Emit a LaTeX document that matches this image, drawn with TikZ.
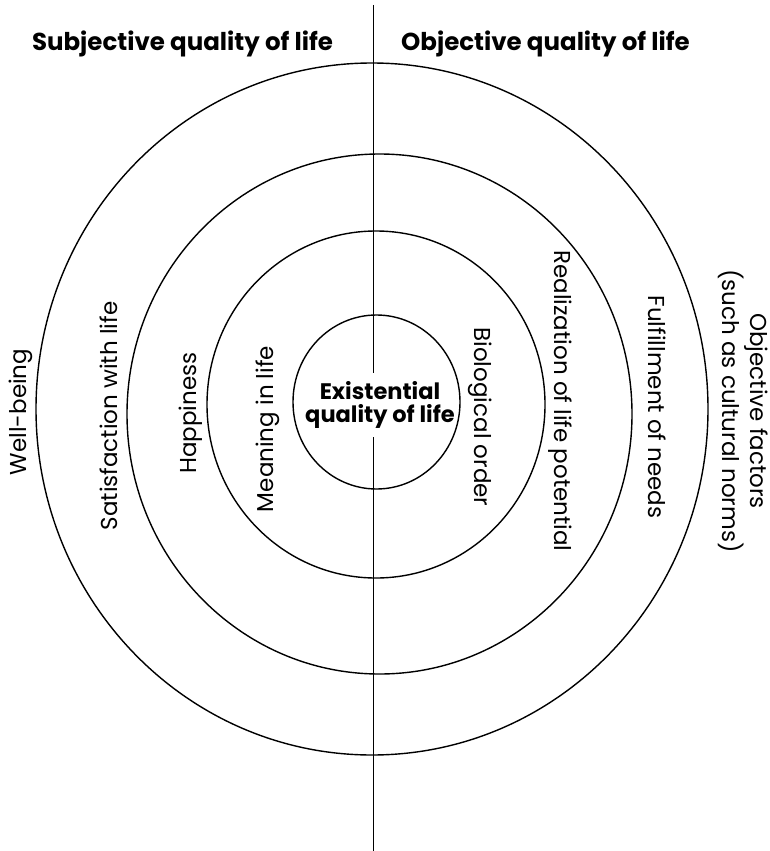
\documentclass[tikz,border=0pt]{standalone}
\usepackage{fontspec}
\setmainfont{Poppins}
\begin{document}
\begin{tikzpicture}[x=1pt,y=-1pt,
  ring/.style={line width=1.4pt},
  divider/.style={line width=1.4pt},
  title/.style={font=\fontsize{24.5}{28}\selectfont\bfseries, anchor=base},
  lbl/.style={font=\fontsize{23}{24}\selectfont, inner sep=0pt},
  lblL/.style={lbl, rotate=90},
  lblR/.style={lbl, rotate=-90, align=center},
  core/.style={font=\fontsize{22.5}{23.5}\selectfont\bfseries, align=center, inner sep=0pt, outer sep=0pt}]
\useasboundingbox (0,0) rectangle (770,851);
% rings
\draw[ring] (372,409) ellipse [x radius=336, y radius=346];
\draw[ring] (379.5,414) ellipse [x radius=252.5, y radius=260];
\draw[ring] (376,404.5) ellipse [x radius=169, y radius=173.5];
\draw[ring] (376.5,402) ellipse [x radius=83.5, y radius=87];
% titles
\node[title] (subj) at (182.5,50.5) {Subjective quality of life};
\node[title] (obj) at (545.5,50.5) {Objective quality of life};
% centre
\node[core, minimum height=64pt] (ex) at (380,405) {Existential\\quality of life};
\coordinate (ltop) at (373.3,5);
\coordinate (lbot) at (373.3,851);
\draw[divider] (ltop) -- (ex.north -| ltop);
\draw[divider] (ex.south -| ltop) -- (lbot);
% left labels
\node[lblL] (wb) at (21,412) {Well-being};
\node[lblL] (sat) at (109,416) {Satisfaction with life};
\node[lblL] (hap) at (191,413) {Happiness};
\node[lblL] (mean) at (268,429) {Meaning in life};
% right labels
\node[lblR] (bio) at (480,417) {Biological order};
\node[lblR] (real) at (560,401) {Realization of life potential};
\node[lblR] (ful) at (657,407) {Fulfillment of needs};
\node[lblR] (objf) at (743,411) {Objective factors\\(such as cultural norms)};
\end{tikzpicture}
\end{document}
